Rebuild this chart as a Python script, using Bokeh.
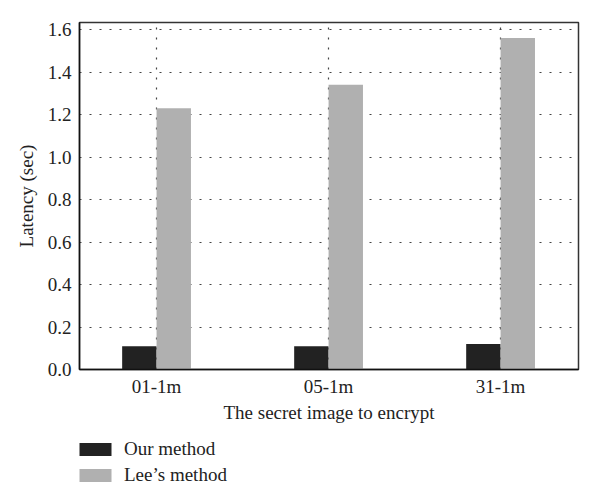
from bokeh.plotting import figure
from bokeh.models import (ColumnDataSource, FixedTicker, Range1d, Legend, LegendItem,
                          NumeralTickFormatter)
from bokeh.layouts import column
from bokeh.transform import dodge
from bokeh.embed import file_html
from bokeh.resources import INLINE

categories = ["01-1m", "05-1m", "31-1m"]
our_method = [0.11, 0.11, 0.12]
lees_method = [1.23, 1.34, 1.56]
series_names = ["Our method", "Lee\u2019s method"]
series_colors = ["#222222", "#b0b0b0"]

pos = [i + 1 for i in range(len(categories))]
bw = 0.2

FONT = "Liberation Serif"
FS = "19px"

p = figure(width=584, height=430, output_backend="svg", toolbar_location=None,
           x_range=Range1d(0.552, 3.453), y_range=Range1d(0, 1.633),
           min_border_left=79, min_border_right=6, min_border_top=22,
           min_border_bottom=61)

src = ColumnDataSource(dict(x=pos, our=our_method, lee=lees_method))
r1 = p.vbar(x=dodge("x", -bw / 2, range=p.x_range), top="our", width=bw, source=src,
            fill_color=series_colors[0], line_color=None)
r2 = p.vbar(x=dodge("x", bw / 2, range=p.x_range), top="lee", width=bw, source=src,
            fill_color=series_colors[1], line_color=None)

p.xaxis.ticker = FixedTicker(ticks=pos)
p.xaxis.major_label_overrides = {pos[i]: c for i, c in enumerate(categories)}
p.yaxis.ticker = FixedTicker(ticks=[0, 0.2, 0.4, 0.6, 0.8, 1.0, 1.2, 1.4, 1.6])
p.yaxis.formatter = NumeralTickFormatter(format="0.0")

for ax in (p.xaxis[0], p.yaxis[0]):
    ax.major_tick_line_color = None
    ax.minor_tick_line_color = None
    ax.major_tick_out = 0
    ax.major_tick_in = 0
    ax.minor_tick_out = 0
    ax.minor_tick_in = 0
    ax.axis_line_color = "#111111"
    ax.axis_line_width = 1.5
    ax.major_label_text_font = FONT
    ax.major_label_text_font_size = FS
    ax.major_label_text_color = "#222222"
    ax.axis_label_text_font = FONT
    ax.axis_label_text_font_size = FS
    ax.axis_label_text_font_style = "normal"
    ax.axis_label_text_color = "#222222"

p.xaxis.axis_label = "The secret image to encrypt"
p.yaxis.axis_label = "Latency (sec)"
p.xaxis.major_label_standoff = 6
p.xaxis.axis_label_standoff = 2
p.yaxis.major_label_standoff = 8
p.yaxis.axis_label_standoff = 8

for g in (p.xgrid[0], p.ygrid[0]):
    g.grid_line_color = "#444444"
    g.grid_line_dash = "2 8"
    g.grid_line_width = 1.2
p.ygrid.ticker = FixedTicker(ticks=[0.2, 0.4, 0.6, 0.8, 1.0, 1.2, 1.4, 1.6])

p.outline_line_color = "#333333"
p.outline_line_width = 1.5

# legend panel below the chart (its swatch renderers have zero height)
lg = figure(width=584, height=58, output_backend="svg", toolbar_location=None,
            x_range=Range1d(0, 1), y_range=Range1d(0, 1),
            min_border_left=79, min_border_right=6, min_border_top=0,
            min_border_bottom=0)
lg.axis.visible = False
lg.grid.visible = False
lg.outline_line_color = None
lr1 = lg.vbar(x=[0.5], top=[0], width=0.1, fill_color=series_colors[0], line_color=None)
lr2 = lg.vbar(x=[0.5], top=[0], width=0.1, fill_color=series_colors[1], line_color=None)

legend = Legend(items=[LegendItem(label=series_names[0], renderers=[lr1]),
                       LegendItem(label=series_names[1], renderers=[lr2])],
                location=(-4, 2), orientation="vertical",
                glyph_width=40, glyph_height=16, label_height=13,
                label_standoff=9, spacing=4, padding=0, margin=0,
                background_fill_alpha=0, border_line_color=None,
                label_text_font=FONT, label_text_font_size=FS,
                label_text_color="#222222")
lg.add_layout(legend, "center")

open("out.html", "w").write(file_html(column(p, lg, spacing=0), INLINE))
